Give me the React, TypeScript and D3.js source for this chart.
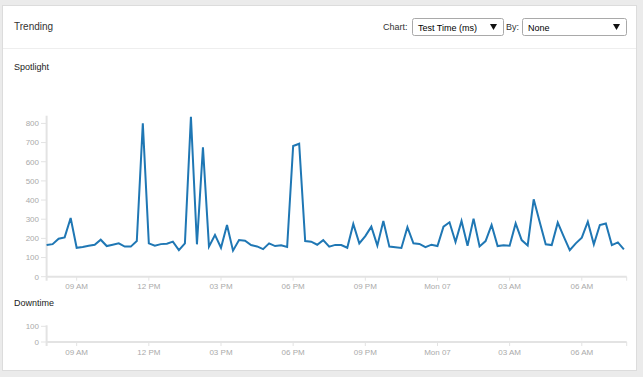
import React from "react";
import * as d3 from "d3";

// ---- data ----
const startTime = new Date(2016, 2, 6, 7, 45);
const endTime = new Date(2016, 2, 7, 7, 52);
const stepMinutes = 15;
const spotlight: number[] = [
  165, 170, 198, 205, 306, 151, 155, 162, 167, 193, 160, 167, 174, 157, 157, 186, 800,
  174, 162, 170, 172, 183, 139, 174, 835, 169, 675, 157, 218, 151, 270, 136, 191,
  188, 165, 158, 144, 174, 160, 164, 155, 682, 694, 186, 183, 167, 191, 157, 166,
  165, 151, 275, 174, 212, 261, 162, 291, 157, 154, 150, 258, 174, 171, 154, 167,
  160, 261, 284, 181, 291, 162, 303, 158, 186, 270, 160, 164, 162, 278, 191, 163,
  404, 285, 169, 165, 282, 209, 138, 174, 204, 287, 169, 270, 278, 165, 179, 143,
];
const spotlightTimes = spotlight.map((_, i) => d3.timeMinute.offset(startTime, stepMinutes * i));
const downtimeTicks = [0, 100];
const chartOptions = ["Test Time (ms)"];
const byOptions = ["None"];

const FONT = "'Liberation Sans', Arial, Helvetica, sans-serif";
const AXIS = "#e3e3e3";
const LABEL = "#aaa";

export default function App() {
  const W = 643, H = 377;
  const x = d3.scaleTime().domain([startTime, endTime]).range([46.6, 626.7]);
  const xTicks = x.ticks(d3.timeHour.every(3)!);
  const fmt = x.tickFormat();

  const y = d3.scaleLinear().domain([0, d3.max(spotlight)!]).range([276.7, 116.7]);
  const yTicks = y.ticks(10);
  const line = d3.line<number>()
    .x((_, i) => x(spotlightTimes[i]))
    .y((d) => y(d));

  const y2 = d3.scaleLinear().domain([0, 100]).range([342, 326.3]);

  const xAxis = (yPos: number, key: string) => (
    <g key={key}>
      <line x1={x.range()[0]} x2={x.range()[1]} y1={yPos} y2={yPos} stroke={AXIS} strokeWidth={2} />
      <line x1={x.range()[1]} x2={x.range()[1]} y1={yPos} y2={yPos + 4} stroke={AXIS} strokeWidth={1} />
      {xTicks.map((t, i) => (
        <g key={i}>
          <line x1={x(t)} x2={x(t)} y1={yPos} y2={yPos + 4} stroke={AXIS} strokeWidth={1} />
          <text x={x(t)} y={yPos + 12.5} textAnchor="middle" fontSize={8} fill={LABEL} fontFamily={FONT}>
            {fmt(t)}
          </text>
        </g>
      ))}
    </g>
  );

  const yAxis = (scale: d3.ScaleLinear<number, number>, ticks: number[], key: string) => (
    <g key={key}>
      <line x1={46.6} x2={46.6} y1={scale.range()[1] - 1} y2={scale.range()[0] + 4} stroke={AXIS} strokeWidth={2} />
      {ticks.map((t, i) => (
        <g key={i}>
          <line x1={41} x2={46.6} y1={scale(t)} y2={scale(t)} stroke={AXIS} strokeWidth={1} />
          <text x={39} y={scale(t)} dy="0.35em" textAnchor="end" fontSize={8} fill={LABEL} fontFamily={FONT}>
            {t}
          </text>
        </g>
      ))}
    </g>
  );

  const select = (x0: number, w: number, label: string) => (
    <g>
      <rect x={x0 + 0.5} y={18.5} width={w} height={17} rx={2} fill="#fff" stroke="#a9a9a9" />
      <text x={x0 + 6} y={30.5} fontSize={9} fill="#000" fontFamily={FONT}>{label}</text>
      <path
        d={`M${x0 + w - 13},${24} h7 l-3.5,6 z`}
        fill="#111"
      />
    </g>
  );

  return (
    <div style={{ position: "fixed", left: 0, top: 0, width: W, height: H }}>
      <svg width={W} height={H} style={{ display: "block" }}>
        <rect x={0} y={0} width={W} height={H} fill="#ebebeb" />
        <rect x={2.5} y={5.5} width={634} height={365} fill="#fff" stroke="#dcdcdc" />
        <line x1={3} x2={636} y1={48.5} y2={48.5} stroke="#eeeeee" />
        <text x={14} y={29.5} fontSize={10} fill="#333" fontFamily={FONT}>Trending</text>
        <text x={383} y={30} fontSize={9} fill="#333" fontFamily={FONT}>Chart:</text>
        {select(412, 91, chartOptions[0])}
        <text x={506} y={30} fontSize={9} fill="#333" fontFamily={FONT}>By:</text>
        {select(522, 104, byOptions[0])}

        <text x={14} y={70} fontSize={9} fill="#222" fontFamily={FONT}>Spotlight</text>
        {yAxis(y, yTicks, "ya")}
        {xAxis(276.7, "xa")}
        <path d={line(spotlight)!} fill="none" stroke="#1f77b4" strokeWidth={2} strokeLinejoin="miter" />

        <text x={14} y={305.5} fontSize={9} fill="#222" fontFamily={FONT}>Downtime</text>
        {yAxis(y2, downtimeTicks, "yb")}
        {xAxis(342, "xb")}
      </svg>
    </div>
  );
}
